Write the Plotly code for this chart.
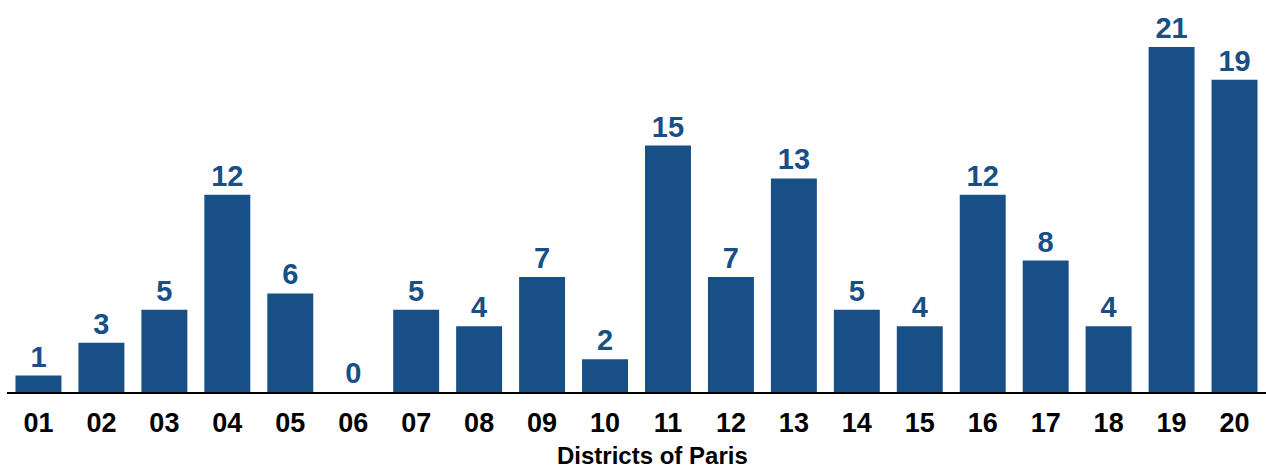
import plotly.graph_objects as go

districts = ["01", "02", "03", "04", "05", "06", "07", "08", "09", "10",
             "11", "12", "13", "14", "15", "16", "17", "18", "19", "20"]
counts = [1, 3, 5, 12, 6, 0, 5, 4, 7, 2, 15, 7, 13, 5, 4, 12, 8, 4, 21, 19]
x_title = "Districts of Paris"

blue = "#174f86"

fig = go.Figure(go.Bar(
    x=districts,
    y=counts,
    marker=dict(color=blue, line=dict(width=0)),
    text=counts,
    textposition="outside",
    textfont=dict(family="Liberation Sans", size=29, color=blue, weight="bold"),
    cliponaxis=False,
))

fig.update_layout(
    width=1266, height=468,
    margin=dict(l=7, r=0, t=0, b=76),
    plot_bgcolor="white",
    paper_bgcolor="white",
    bargap=0.27,
    showlegend=False,
    xaxis=dict(
        type="category",
        automargin=False,
        showline=True, linecolor="black", linewidth=2,
        ticks="outside", ticklen=6, tickcolor="rgba(0,0,0,0)",
        showgrid=False,
        tickfont=dict(family="Liberation Sans", size=27, color="black", weight="bold"),
    ),
    yaxis=dict(
        range=[0, 23.86],
        automargin=False,
        visible=False,
        showgrid=False,
        zeroline=False,
    ),
    # axis title sits a bit right of centre in the original
    annotations=[dict(
        text=x_title, xref="paper", yref="paper", x=0.513, y=0,
        yshift=-63, xanchor="center", yanchor="middle", showarrow=False,
        font=dict(family="Liberation Sans", size=24, color="black", weight="bold"),
    )],
)

# drop the default page margin so the figure sits at the window's corner
fig.write_html("out.html", config={"displayModeBar": False},
               post_script="document.body.style.margin='0';")
